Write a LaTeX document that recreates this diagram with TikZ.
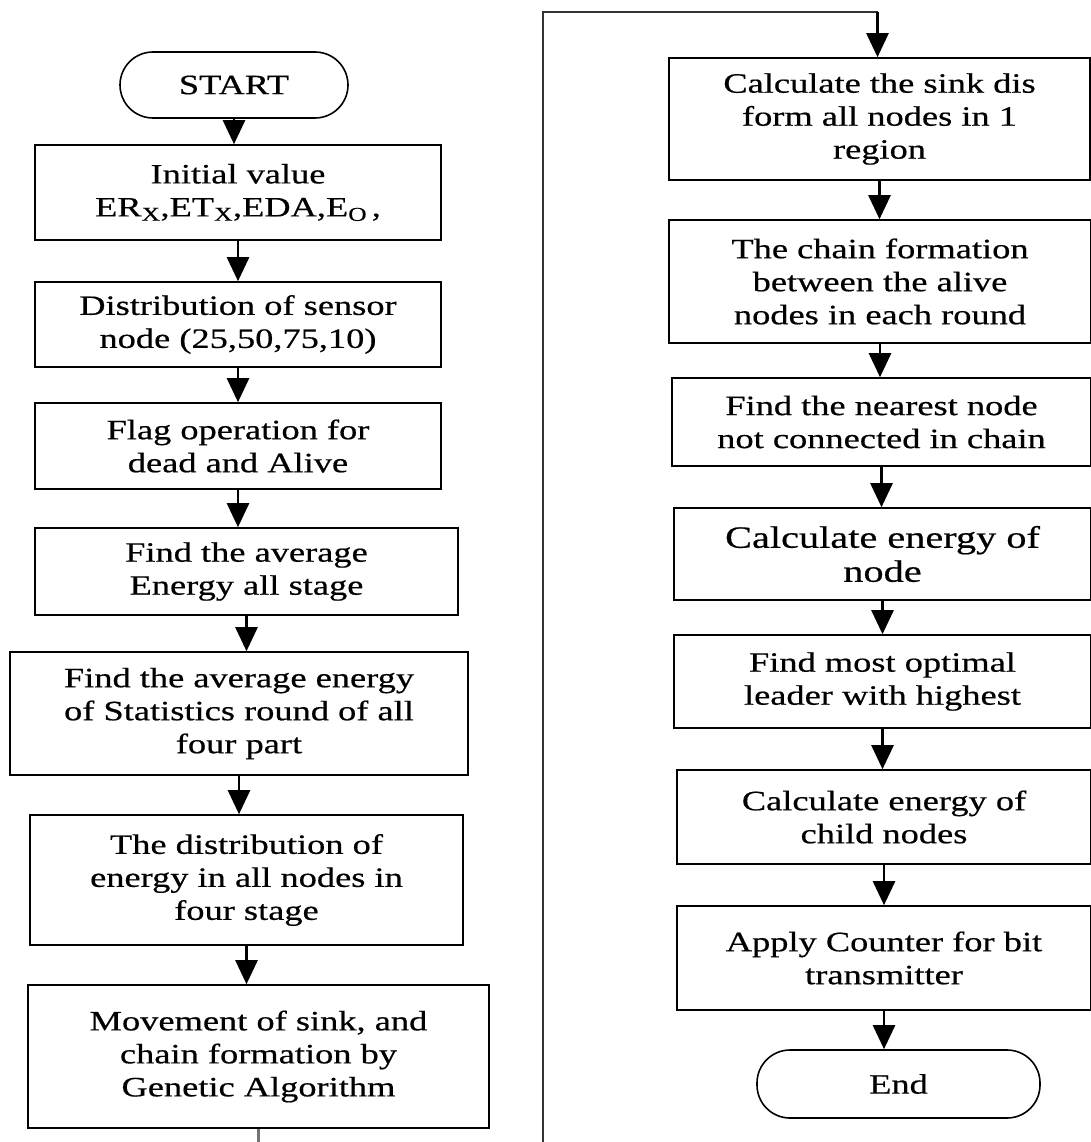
\documentclass[tikz,border=0pt]{standalone}
\usepackage{fontspec}
\setmainfont[FakeStretch=1.3,FakeBold=0.5]{Liberation Serif}
\usetikzlibrary{arrows.meta}
\begin{document}
\begin{tikzpicture}[x=1pt,y=-1pt,
  box/.style={draw, line width=1.6pt, rectangle, align=center, inner sep=0pt,
    font=\fontsize{28}{33}\selectfont},
  term/.style={box, rounded corners=33pt},
  arr/.style={line width=2.6pt, -{Triangle[width=22pt,length=24pt]}},
  link/.style={line width=2.4pt, draw=black!80},
]
\fill[white] (0,0) rectangle (1091,1142);
\useasboundingbox (0,0) rectangle (1091,1142);

% left column
\node[term, minimum width=228pt, minimum height=66pt] (start) at (234,85) {START};
\node[box, minimum width=406pt, minimum height=95pt] (n1) at (238,192.5)
  {Initial value\\ER\textsubscript{X},ET\textsubscript{X},EDA,E\textsubscript{O}\,,};
\node[box, minimum width=406pt, minimum height=85pt] (n2) at (238,324.5)
  {Distribution of sensor\\node (25,50,75,10)};
\node[box, minimum width=406pt, minimum height=86pt] (n3) at (238,446)
  {Flag operation for\\dead and Alive};
\node[box, minimum width=423pt, minimum height=87pt] (n4) at (246.5,571.5)
  {Find the average\\Energy all stage};
\node[box, minimum width=458pt, minimum height=123pt] (n5) at (239,713.5)
  {Find the average energy\\of Statistics round of all\\four part};
\node[box, minimum width=433pt, minimum height=130pt] (n6) at (246.5,880)
  {The distribution of\\energy in all nodes in\\four stage};
\node[box, minimum width=461pt, minimum height=143pt] (n7) at (258.5,1056.5)
  {Movement of sink, and\\chain formation by\\Genetic Algorithm};

% right column
\node[box, minimum width=421pt, minimum height=122pt] (r1) at (879.5,119)
  {Calculate the sink dis\\form all nodes in 1\\region};
\node[box, minimum width=422pt, minimum height=123pt] (r2) at (880,281.5)
  {The chain formation\\between the alive\\nodes in each round};
\node[box, minimum width=419pt, minimum height=88pt] (r3) at (881.5,422)
  {Find the nearest node\\not connected in chain};
\node[box, minimum width=417pt, minimum height=92pt, font=\fontsize{31}{34}\selectfont] (r4) at (882.5,554)
  {Calculate energy of\\node};
\node[box, minimum width=417pt, minimum height=93pt] (r5) at (882.5,681.5)
  {Find most optimal\\leader with highest};
\node[box, minimum width=414pt, minimum height=94pt] (r6) at (884,817)
  {Calculate energy of\\child nodes};
\node[box, minimum width=414pt, minimum height=104pt] (r7) at (884,958)
  {Apply Counter for bit\\transmitter};
\node[term, minimum width=283pt, minimum height=68pt] (end) at (898.5,1084) {End};

% arrows left
\draw[arr] (start.south) -- (start.south |- n1.north);
\draw[arr] (n1.south) -- (n1.south |- n2.north);
\draw[arr] (n2.south) -- (n2.south |- n3.north);
\draw[arr] (n3.south) -- (n3.south |- n4.north);
\draw[arr] (n4.south) -- (n4.south |- n5.north);
\draw[arr] (n5.south) -- (n5.south |- n6.north);
\draw[arr] (n6.south) -- (n6.south |- n7.north);

% arrows right
\draw[arr] (r1.south) -- (r1.south |- r2.north);
\draw[arr] (r2.south) -- (r2.south |- r3.north);
\draw[arr] (r3.south) -- (r3.south |- r4.north);
\draw[arr] (r4.south) -- (r4.south |- r5.north);
\draw[arr] (r5.south) -- (r5.south |- r6.north);
\draw[arr] (r6.south) -- (r6.south |- r7.north);
\draw[arr] (r7.south) -- (r7.south |- end.north);

% link between columns
\coordinate (b1) at (n7.south |- 0,1142);
\coordinate (b2) at (543,1142);
\coordinate (t2) at (543,12);
\coordinate (t3) at ([xshift=-2pt]r1.north |- t2);
\draw[link, draw=black!55] (n7.south) -- (b1);
\draw[link] (b2) -- (t2) -- (t3);
\draw[arr] (t3) -- ([xshift=-2pt]r1.north);
\end{tikzpicture}
\end{document}
